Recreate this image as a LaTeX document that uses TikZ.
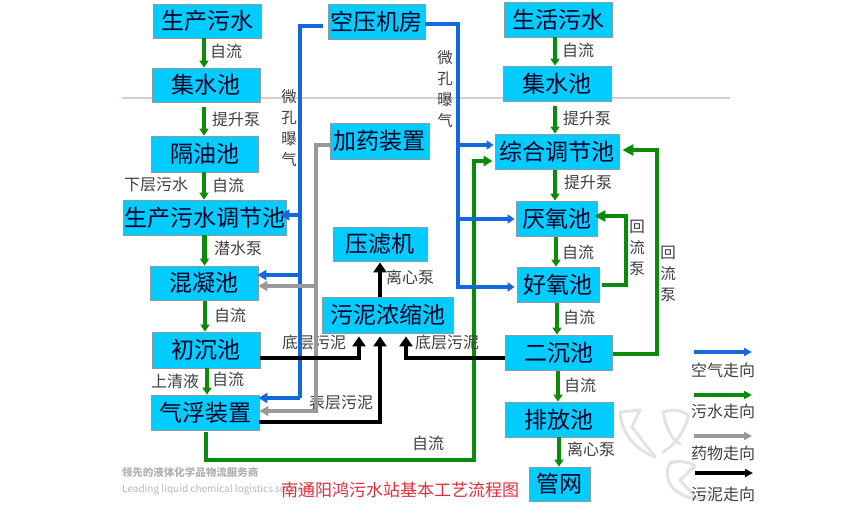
\documentclass[tikz,border=0pt]{standalone}
\usepackage{fontspec}
\setmainfont{Noto Sans CJK SC}
\usetikzlibrary{arrows.meta}
\definecolor{boxfill}{HTML}{00CCFF}
\definecolor{boxedge}{HTML}{8C9CA4}
\definecolor{airblue}{HTML}{1568DC}
\definecolor{watergreen}{HTML}{0A8C0A}
\definecolor{drugGray}{HTML}{999999}
\definecolor{titlered}{HTML}{E0303C}
\definecolor{ruleTan}{HTML}{D6D0C8}
\tikzset{
  boxn/.style={draw=boxedge,line width=0.8pt,fill=boxfill,inner sep=0pt,font=\fontsize{23}{23}\selectfont,text=black!85!blue},
  lbl/.style={inner sep=0pt,font=\fontsize{16}{16}\selectfont,text=black!75},
  vlbl/.style={lbl,align=center,font=\fontsize{15.5}{21}\selectfont},
  bluea/.style={draw=airblue,line width=4pt,line join=miter},
  greena/.style={draw=watergreen,line width=4.2pt,line join=miter},
  graya/.style={draw=drugGray,line width=4pt,line join=miter},
  blacka/.style={draw=black,line width=4.5pt,line join=miter},
  tipv/.style={-{Triangle[width=9pt,length=7pt]}},
  tipb/.style={-{Triangle[width=10pt,length=9pt]}},
  tipr/.style={-{Triangle[width=11pt,length=11pt]}},
  tipk/.style={-{Triangle[width=13pt,length=10pt]}},
  wm/.style={draw=black!11,line width=3pt,line cap=round,line join=round},
}
\newcommand{\nbox}[6]{\node[boxn,minimum width={(#4-#2)*1pt},minimum height={(#5-#3)*1pt}] (#1) at ({(#2+#4)/2},{(#3+#5)/2}) {#6};}
\begin{document}
\begin{tikzpicture}[x=1pt,y=-1pt]
\useasboundingbox (0,0) rectangle (850,518);
\fill[white] (0,0) rectangle (850,518);
% horizontal rule
\coordinate (ruleA) at (122,98);
\coordinate (ruleB) at (730,98);
\draw[ruleTan,line width=1.6pt] (ruleA) -- (ruleB);
% watermark logo
\draw[wm] (640,410) -- (620,412) .. controls (621,430) and (632,448) .. (655,457);
\draw[wm] (640,410) -- (632,427) -- (655,457);
\draw[wm] (663,412) .. controls (675,408) and (690,412) .. (688,418) .. controls (684,432) and (675,445) .. (663,452);
\draw[wm] (663,412) .. controls (666,428) and (672,440) .. (680,444);
\draw[wm] (670,463) .. controls (662,478) and (672,496) .. (697,499) .. controls (707,499) and (711,494) .. (711,489);
\draw[wm] (670,463) .. controls (680,460) and (690,462) .. (695,466) -- (680,480) -- (697,499);
% watermark text
\node[inner sep=0pt,font=\fontsize{10.5}{10.5}\selectfont\bfseries,text=black!30] (wmA) at (190,473) {领先的液体化学品物流服务商};
\node[inner sep=0pt,anchor=west,font=\fontsize{10}{10}\selectfont,text=black!28] (wmB) at (122,490) {Leading liquid chemical logistics services};
% labels under the connector lines
\node[lbl] (lA) at (314,342) {底层污泥};
\node[lbl] (lB) at (341,402) {表层污泥};
\node[vlbl] (lWeiL) at (289,128) {微\\孔\\曝\\气};
\node[vlbl] (lWeiR) at (445,89) {微\\孔\\曝\\气};
% boxes
\nbox{scws}{153}{4}{261}{38}{生产污水}
\nbox{jsa}{152}{68}{260}{102}{集水池}
\nbox{gyc}{151}{136}{258}{172}{隔油池}
\nbox{tjc}{123}{200}{286}{235}{生产污水调节池}
\nbox{hnc}{150}{266}{258}{300}{混凝池}
\nbox{ccc}{152}{332}{260}{368}{初沉池}
\nbox{qf}{151}{395}{259}{430}{气浮装置}
\nbox{ky}{328}{4}{425}{39}{空压机房}
\nbox{jy}{330}{123}{429}{159}{加药装置}
\nbox{ylj}{333}{227}{427}{261}{压滤机}
\nbox{wn}{322}{297}{453}{333}{污泥浓缩池}
\nbox{shws}{504}{2}{612}{37}{生活污水}
\nbox{jsb}{503}{66}{611}{101}{集水池}
\nbox{zh}{495}{134}{619}{169}{综合调节池}
\nbox{yy}{516}{201}{597}{236}{厌氧池}
\nbox{hy}{517}{267}{599}{302}{好氧池}
\nbox{ec}{505}{335}{612}{370}{二沉池}
\nbox{pf}{505}{402}{613}{437}{排放池}
\nbox{gw}{529}{467}{590}{501}{管网}
% green vertical flows
\draw[greena,tipv] ([xshift=-3pt]scws.south) -- ([xshift=-3pt]scws.south |- jsa.north);
\draw[greena,tipv] ([xshift=-2pt,yshift=-5pt]jsa.south) -- ([xshift=-2pt]jsa.south |- gyc.north);
\draw[greena,tipv] ([xshift=-0.5pt]gyc.south) -- ([xshift=-0.5pt]gyc.south |- tjc.north);
\draw[greena,tipv] (tjc.south) -- (tjc.south |- hnc.north);
\draw[greena,tipv] ([xshift=1pt,yshift=-1pt]hnc.south) -- ([xshift=1pt]hnc.south |- ccc.north);
\draw[greena,tipv] ([xshift=1pt]ccc.south) -- ([xshift=1pt]ccc.south |- qf.north);
\draw[greena,tipv] ([xshift=-3pt]shws.south) -- ([xshift=-3pt]shws.south |- jsb.north);
\draw[greena,tipv] ([xshift=-2pt,yshift=-5pt]jsb.south) -- ([xshift=-2pt]jsb.south |- zh.north);
\draw[greena,tipv] ([xshift=-2pt,yshift=-1pt]zh.south) -- ([xshift=-2pt]zh.south |- yy.north);
\draw[greena,tipv] ([xshift=-0.5pt,yshift=-1pt]yy.south) -- ([xshift=-0.5pt]yy.south |- hy.north);
\draw[greena,tipv] ([xshift=-1pt,yshift=-1pt]hy.south) -- ([xshift=-1pt]hy.south |- ec.north);
\draw[greena,tipv] ([xshift=-0.5pt,yshift=-1pt]ec.south) -- ([xshift=-0.5pt]ec.south |- pf.north);
\draw[greena,tipv] (pf.south) -- (pf.south |- gw.north);
% green return lines
\coordinate (gA) at (206,460);
\coordinate (gB) at (474,460);
\coordinate (gC) at (474,161);
\draw[greena,tipb] ([yshift=-2pt]gA |- qf.south) -- (gA) -- (gB) -- (gC) -- ([xshift=-2pt]gC -| zh.west);
\coordinate (gD) at (626,285);
\coordinate (gE) at (626,216);
\draw[greena,tipr] ([xshift=3pt]gD -| hy.east) -- (gD) -- (gE) -- ([xshift=-3pt]gE -| yy.east);
\coordinate (gF) at (657,354);
\coordinate (gG) at (657,150);
\draw[greena,tipr] ([xshift=1pt]gF -| ec.east) -- (gF) -- (gG) -- ([xshift=3pt]gG -| zh.east);
% blue air lines
\coordinate (bA) at (300,26);
\coordinate (bB) at (300,398);
\coordinate (bC) at (300,215);
\coordinate (bD) at (300,275);
\draw[bluea] ([xshift=-5pt]bA -| ky.west) -- (bA) -- (bB);
\draw[bluea,tipb] (bB) -- ([xshift=-1pt]bB -| qf.east);
\draw[bluea,-{Triangle[width=11pt,length=9pt]}] (bC) -- ([xshift=-6pt]bC -| tjc.east);
\draw[bluea,tipb] (bD) -- ([xshift=-1pt]bD -| hnc.east);
\coordinate (bE) at (458,24);
\coordinate (bF) at (458,287);
\coordinate (bG) at (458,145);
\coordinate (bH) at (458,219);
\draw[bluea,tipv] (bE -| ky.east) -- (bE) -- (bF) -- ([xshift=-2pt]bF -| hy.west);
\draw[bluea,tipv] (bG) -- ([xshift=-1pt]bG -| zh.west);
\draw[bluea,tipv] (bH) -- ([xshift=-1pt]bH -| yy.west);
% gray dosing lines
\coordinate (hA) at (316,145);
\coordinate (hB) at (316,411);
\coordinate (hC) at (316,286);
\draw[graya,tipb] (hA -| jy.west) -- (hA) -- (hB) -- (hB -| qf.east);
\draw[graya,tipb] (hC) -- (hC -| hnc.east);
% black sludge lines
\coordinate (kA) at (359,358);
\coordinate (kB) at (380,422);
\coordinate (kC) at (406,358);
\draw[blacka,tipk] (kA -| ccc.east) -- (kA) -- ([yshift=-3pt]kA |- wn.south);
\draw[blacka,tipk] (kB -| qf.east) -- (kB) -- ([yshift=-3pt]kB |- wn.south);
\draw[blacka,tipk] (kC -| ec.west) -- (kC) -- ([yshift=-3pt]kC |- wn.south);
\draw[blacka,tipk] (wn.north -| kB) -- ([yshift=-1pt]ylj.south -| kB);
% labels
\node[lbl] at (226,51) {自流};
\node[lbl] at (236,119) {提升泵};
\node[lbl] at (156,185) {下层污水};
\node[lbl] at (228,185) {自流};
\node[lbl] at (238,248) {潜水泵};
\node[lbl] at (230,315) {自流};
\node[lbl] at (175,381) {上清液};
\node[lbl] at (228,379) {自流};
\node[lbl] at (410,277) {离心泵};
\node[lbl] at (447,342) {底层污泥};
\node[lbl] at (428,443) {自流};
\node[lbl] at (578,50) {自流};
\node[lbl] at (587,118) {提升泵};
\node[lbl] at (588,182) {提升泵};
\node[lbl] at (578,252) {自流};
\node[vlbl] at (637,248) {回\\流\\泵};
\node[vlbl] at (668,274) {回\\流\\泵};
\node[lbl] at (579,317) {自流};
\node[lbl] at (580,385) {自流};
\node[lbl] at (591,449) {离心泵};
% title
\node[inner sep=0pt,font=\fontsize{17}{17}\selectfont,text=titlered] (title) at (400,490) {南通阳鸿污水站基本工艺流程图};
% legend
\coordinate (lgA) at (694,352);\coordinate (lgB) at (752,352);
\coordinate (lgC) at (694,395);\coordinate (lgD) at (752,395);
\coordinate (lgE) at (694,436);\coordinate (lgF) at (752,436);
\coordinate (lgG) at (695,473);\coordinate (lgH) at (753,473);
\draw[airblue,line width=3.5pt,-{Triangle[width=8pt,length=8pt]}] (lgA) -- (lgB);
\draw[watergreen,line width=3.5pt,-{Triangle[width=8pt,length=8pt]}] (lgC) -- (lgD);
\draw[drugGray,line width=3.5pt,-{Triangle[width=8pt,length=8pt]}] (lgE) -- (lgF);
\draw[black,line width=3.5pt,-{Triangle[width=8pt,length=8pt]}] (lgG) -- (lgH);
\node[lbl] at (723,370) {空气走向};
\node[lbl] at (723,411) {污水走向};
\node[lbl] at (723,453) {药物走向};
\node[lbl] at (723,494) {污泥走向};
\end{tikzpicture}
\end{document}
